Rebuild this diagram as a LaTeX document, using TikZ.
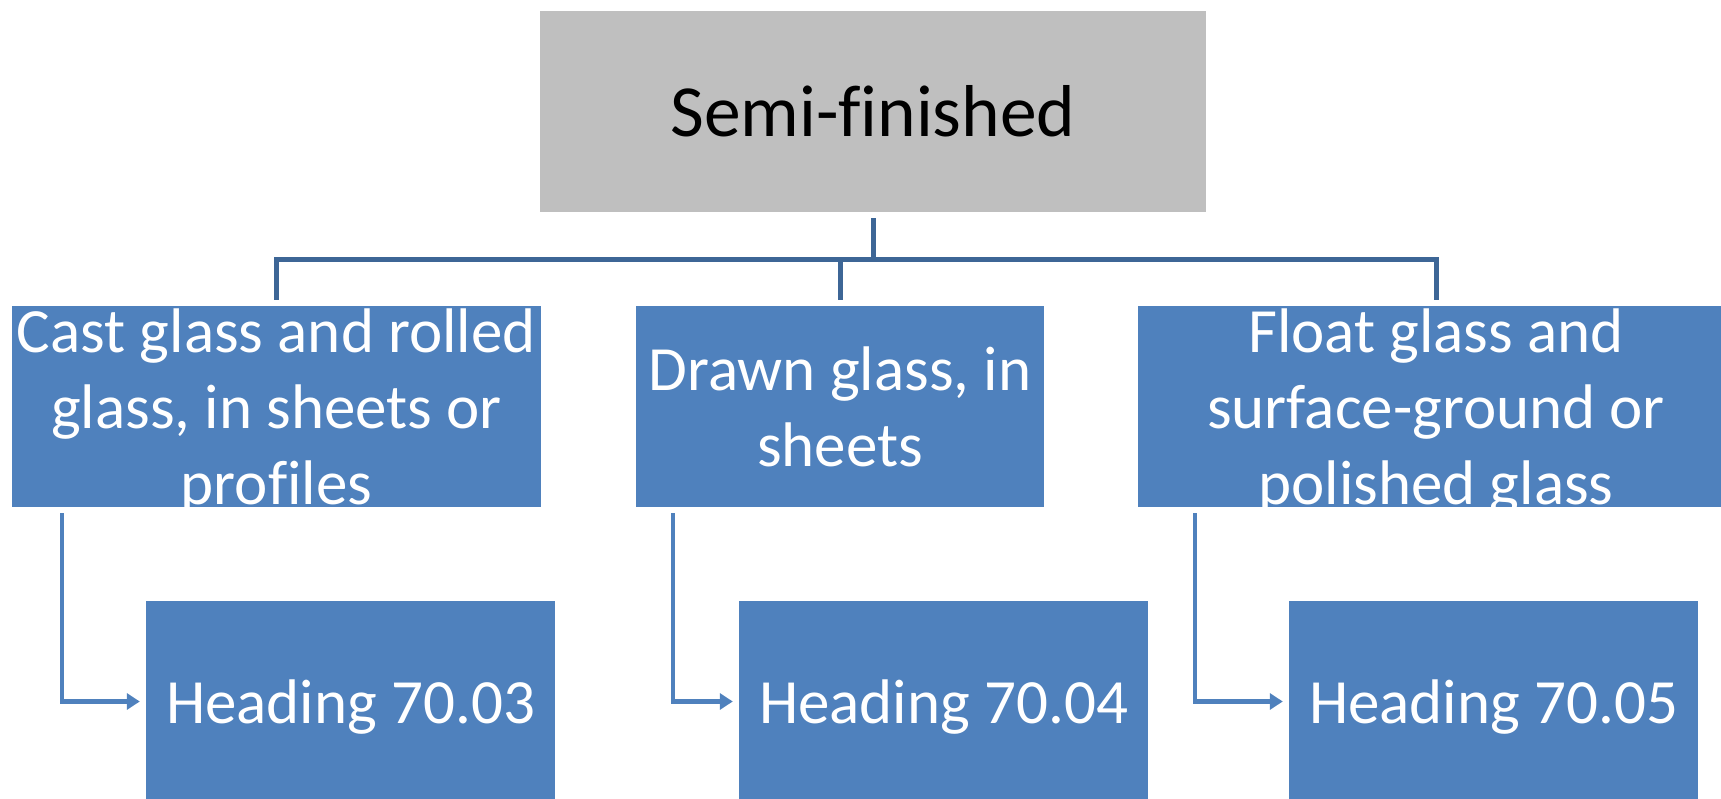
\documentclass[tikz,border=0pt]{standalone}
\usepackage{fontspec}
\setmainfont{Carlito}[Ligatures=NoCommon,RawFeature={-liga}]
\usetikzlibrary{arrows.meta}
\definecolor{boxblue}{HTML}{4F81BD}
\definecolor{boxgray}{HTML}{BFBFBF}
\definecolor{treeblue}{HTML}{3D6696}
\newcommand\btext[2]{\makebox[0pt]{\raisebox{#1}[0pt][0pt]{\begin{tabular}[t]{@{}c@{}}#2\end{tabular}}}}
\begin{document}
\begin{tikzpicture}[x=1pt,y=-1pt,
  topbox/.style={rectangle, inner sep=0pt, fill=boxgray, text=black,
    minimum width=666pt, minimum height=201pt, font=\fontsize{73.5}{88}\selectfont},
  midbox/.style={rectangle, inner sep=0pt, fill=boxblue, text=white,
    minimum height=201pt, font=\fontsize{63}{76}\selectfont},
  leafbox/.style={midbox, minimum width=409pt},
  tree/.style={draw=treeblue, line width=5pt},
  arr/.style={draw=boxblue, line width=4.5pt, -{Triangle[width=16pt,length=13pt]}}]
\useasboundingbox (0,0) rectangle (1721,799);
\clip (0,0) rectangle (1721,799);
\node[topbox] (top) at (873,111.5) {\btext{-25.5pt}{Semi-f\kern0pt inished}};
\node[midbox, minimum width=529pt] (c1) at (276.5,406.5)
  {\btext{54pt}{Cast glass and rolled\\glass, in sheets or\\prof\kern0pt iles}};
\node[midbox, minimum width=408pt] (c2) at (840,406.5)
  {\btext{16pt}{Drawn glass, in\\sheets}};
\node[midbox, minimum width=596pt] (c3) at (1436,406.5)
  {\btext{54pt}{Float glass and\\surface-ground or\\polished glass}};
\node[leafbox] (h1) at (350.5,701.5) {\btext{-22pt}{Heading 70.03}};
\node[leafbox] (h2) at (943.5,701.5) {\btext{-22pt}{Heading 70.04}};
\node[leafbox] (h3) at (1493.5,701.5) {\btext{-22pt}{Heading 70.05}};
\foreach \c in {c1,c2,c3}
  \draw[tree] ([yshift=-6pt]top.south) -- ++(0,41.5) -| ([yshift=6pt]\c.north);
\draw[arr] ([xshift=50pt,yshift=-6pt]c1.south west) |- ([xshift=-6pt]h1.west);
\draw[arr] ([xshift=37pt,yshift=-6pt]c2.south west) |- ([xshift=-6pt]h2.west);
\draw[arr] ([xshift=57pt,yshift=-6pt]c3.south west) |- ([xshift=-6pt]h3.west);
\end{tikzpicture}
\end{document}
